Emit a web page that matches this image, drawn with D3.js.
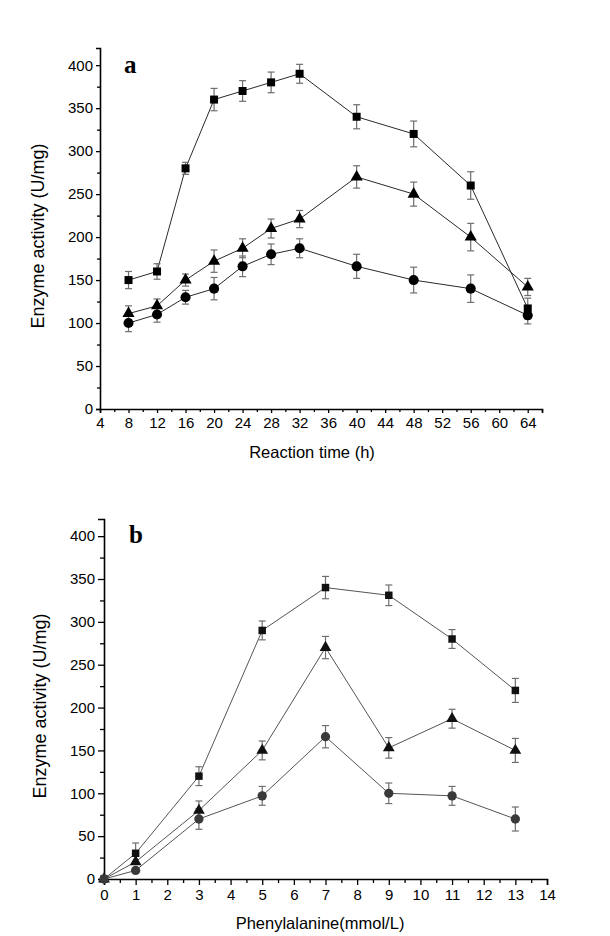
<!DOCTYPE html>
<html>
<head>
<meta charset="utf-8">
<script src="https://cdn.jsdelivr.net/npm/d3@7"></script>
<style>
  body { margin: 0; background: #fff; }
  svg { display: block; }
</style>
</head>
<body>
<svg id="chart" width="610" height="936"></svg>
<script>
// ---------- Panel a data ----------
const timeA = [8, 12, 16, 20, 24, 28, 32, 40, 48, 56, 64];
const squareA = [150, 160, 280, 360, 370, 380, 390, 340, 320, 260, 117];
const squareErrA = [10, 9, 7, 13, 12, 12, 11, 14, 15, 16, 12];
const triangleA = [111, 120, 150, 172, 187, 210, 221, 270, 250, 200, 142];
const triangleErrA = [9, 8, 7, 13, 11, 11, 10, 13, 14, 16, 10];
const circleA = [100, 110, 130, 140, 166, 180, 187, 166, 150, 140, 109];
const circleErrA = [10, 9, 8, 13, 12, 12, 11, 14, 15, 16, 10];
const xTicksA = [4, 8, 12, 16, 20, 24, 28, 32, 36, 40, 44, 48, 52, 56, 60, 64];

// ---------- Panel b data ----------
const pheB = [0, 1, 3, 5, 7, 9, 11, 13];
const squareB = [0, 30, 120, 290, 340, 331, 280, 220];
const squareErrB = [0, 12, 11, 11, 13, 12, 11, 14];
const triangleB = [0, 20, 80, 150, 270, 153, 187, 150];
const triangleErrB = [0, 0, 11, 11, 13, 12, 11, 14];
const circleB = [0, 10, 70, 97, 166, 100, 97, 70];
const circleErrB = [0, 0, 12, 11, 13, 12, 11, 14];
const xTicksB = [0, 1, 2, 3, 4, 5, 6, 7, 8, 9, 10, 11, 12, 13, 14];

const yTicks = [0, 50, 100, 150, 200, 250, 300, 350, 400];
const yTitle = "Enzyme activity (U/mg)";

const svg = d3.select("#chart");
const FONT = "'Liberation Sans', Arial, sans-serif";

function drawPanel(cfg) {
  const g = svg.append("g");
  const x = d3.scaleLinear().domain(cfg.xDomain).range([cfg.left, cfg.right]);
  const y = d3.scaleLinear().domain([0, 420]).range([cfg.bottom, cfg.top]);

  const xAxis = d3.axisBottom(x).tickValues(cfg.xTicks).tickSize(cfg.majorTick).tickPadding(3).tickFormat(d3.format("d"));
  const yAxis = d3.axisLeft(y).tickValues(yTicks).tickSize(cfg.majorTick).tickPadding(cfg.yPad).tickFormat(d3.format("d"));

  const gx = g.append("g").attr("transform", `translate(0,${cfg.bottom})`).call(xAxis);
  const gy = g.append("g").attr("transform", `translate(${cfg.left},0)`).call(yAxis);

  const xMinor = d3.axisBottom(x).tickValues(cfg.xMinor).tickSize(cfg.minorTick).tickFormat("");
  const yMinor = d3.axisLeft(y).tickValues(d3.range(25, 420, 50)).tickSize(cfg.minorTick).tickFormat("");
  const gxm = g.append("g").attr("transform", `translate(0,${cfg.bottom})`).call(xMinor);
  const gym = g.append("g").attr("transform", `translate(${cfg.left},0)`).call(yMinor);
  [gxm, gym].forEach(a => a.select(".domain").remove());

  [gx, gy, gxm, gym].forEach(a => {
    a.select(".domain").attr("stroke", "#000").attr("stroke-width", 1.6);
    a.selectAll(".tick line").attr("stroke", "#000").attr("stroke-width", 1.3);
    a.selectAll(".tick text").attr("font-family", FONT).attr("font-size", 15).attr("fill", "#000");
  });
  gx.selectAll(".tick text").attr("dy", "0.8em");

  const series = [
    { xs: cfg.xs, ys: cfg.sq, err: cfg.sqErr, shape: "square" },
    { xs: cfg.xs, ys: cfg.tr, err: cfg.trErr, shape: "triangle" },
    { xs: cfg.xs, ys: cfg.ci, err: cfg.ciErr, shape: "circle" }
  ];

  const line = d3.line().x(d => x(d[0])).y(d => y(d[1]));

  series.forEach(s => {
    const pts = s.xs.map((xv, i) => [xv, s.ys[i], s.err[i]]);
    g.append("path").datum(pts).attr("d", line)
      .attr("fill", "none").attr("stroke", cfg.lineColor).attr("stroke-width", 1);

    const eb = g.append("g").attr("stroke", "#6e6e6e").attr("stroke-width", 1.2);
    pts.filter(p => p[2] > 0).forEach(p => {
      const cx = x(p[0]);
      const y1 = y(p[1] + p[2]), y2 = y(p[1] - p[2]);
      eb.append("line").attr("x1", cx).attr("x2", cx).attr("y1", y1).attr("y2", y2);
      eb.append("line").attr("x1", cx - 3.5).attr("x2", cx + 3.5).attr("y1", y1).attr("y2", y1);
      eb.append("line").attr("x1", cx - 3.5).attr("x2", cx + 3.5).attr("y1", y2).attr("y2", y2);
    });
  });

  series.forEach(s => {
    const pts = s.xs.map((xv, i) => [xv, s.ys[i]]);
    const sym = s.shape === "square" ? d3.symbolSquare : s.shape === "triangle" ? d3.symbolTriangle : d3.symbolCircle;
    const size = s.shape === "square" ? cfg.sqSize : s.shape === "triangle" ? cfg.trSize : cfg.ciSize;
    const fill = s.shape === "circle" ? cfg.circleFill : cfg.markFill;
    g.selectAll(null).data(pts).join("path")
      .attr("transform", d => `translate(${x(d[0])},${y(d[1])})`)
      .attr("d", d3.symbol().type(sym).size(size))
      .attr("fill", fill);
  });

  g.append("text").attr("x", cfg.letterX).attr("y", cfg.letterY)
    .attr("font-family", "'Liberation Serif', 'Times New Roman', serif")
    .attr("font-weight", "bold").attr("font-size", 25).text(cfg.letter);

  g.append("text")
    .attr("transform", `translate(${cfg.yTitleX},${cfg.yTitleY}) rotate(-90)`)
    .attr("text-anchor", "middle").attr("font-family", FONT).attr("font-size", 18)
    .attr("fill", "#000").text(yTitle);
  g.append("text").attr("x", cfg.xTitleX).attr("y", cfg.xTitleY)
    .attr("text-anchor", "middle").attr("font-family", FONT).attr("font-size", 16.5)
    .attr("fill", "#000").text(cfg.xTitle);
}

drawPanel({
  xDomain: [4, 66], left: 100, right: 542, top: 48, bottom: 409,
  xTicks: xTicksA, xMinor: d3.range(6, 67, 4),
  majorTick: 4, minorTick: 3, yPad: 3,
  xs: timeA, sq: squareA, sqErr: squareErrA, tr: triangleA, trErr: triangleErrA, ci: circleA, ciErr: circleErrA,
  lineColor: "#2a2a2a", markFill: "#000", circleFill: "#000",
  sqSize: 64, trSize: 64, ciSize: 80,
  letter: "a", letterX: 124, letterY: 73,
  yTitleX: 44, yTitleY: 236,
  xTitle: "Reaction time (h)", xTitleX: 312, xTitleY: 458
});

drawPanel({
  xDomain: [0, 14], left: 104, right: 547, top: 519, bottom: 879,
  xTicks: xTicksB, xMinor: d3.range(0.5, 14, 1),
  majorTick: 6, minorTick: 4, yPad: 3,
  xs: pheB, sq: squareB, sqErr: squareErrB, tr: triangleB, trErr: triangleErrB, ci: circleB, ciErr: circleErrB,
  lineColor: "#555", markFill: "#111", circleFill: "#3a3a3a",
  sqSize: 56, trSize: 60, ciSize: 68,
  letter: "b", letterX: 129, letterY: 543,
  yTitleX: 46, yTitleY: 706,
  xTitle: "Phenylalanine(mmol/L)", xTitleX: 320, xTitleY: 929
});
</script>
</body>
</html>
